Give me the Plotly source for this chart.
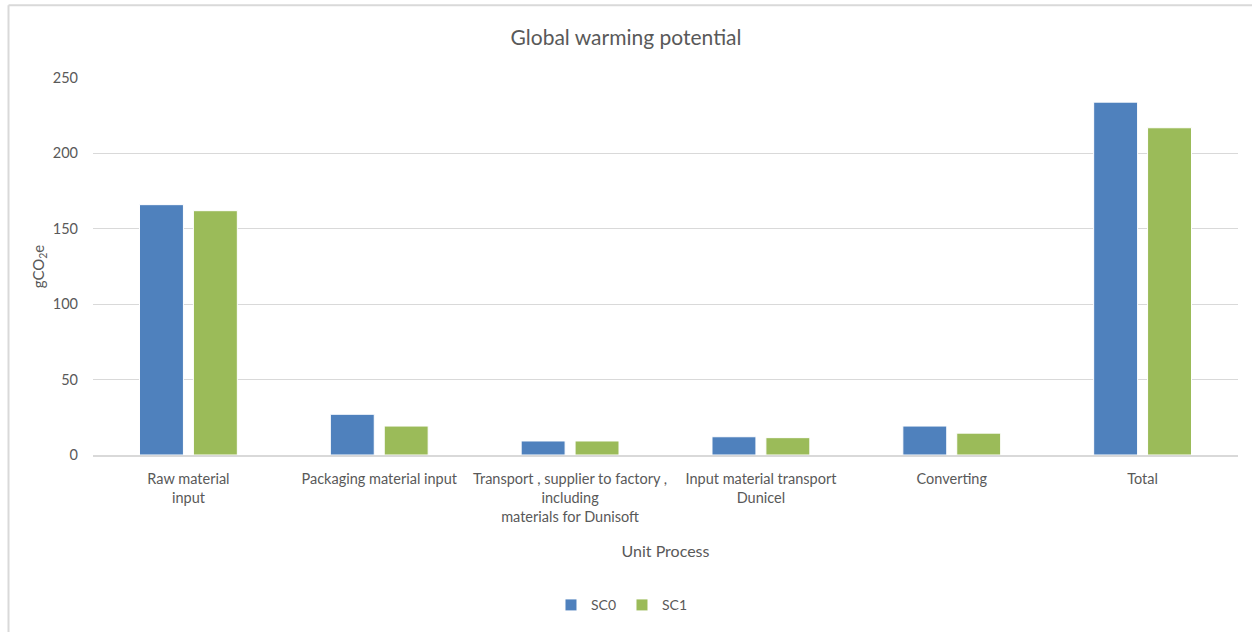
import plotly.graph_objects as go

categories = [
    "Raw material<br>input",
    "Packaging material input",
    "Transport , supplier to factory ,<br>including<br>materials for Dunisoft",
    "Input material transport<br>Dunicel",
    "Converting",
    "Total",
]
sc0 = [166, 27, 9.3, 12.1, 19.2, 234]
sc1 = [162, 19.2, 9.3, 11.5, 14.5, 217]
y_ticks = [0, 50, 100, 150, 200, 250]

FONT = "Lato, Open Sans, sans-serif"
TXT = "#595959"

fig = go.Figure()
fig.add_trace(go.Bar(name="SC0", x=categories, y=sc0, marker=dict(color="#4F81BD", line=dict(color="#FFFFFF", width=1))))
fig.add_trace(go.Bar(name="SC1", x=categories, y=sc1, marker=dict(color="#9BBB59", line=dict(color="#FFFFFF", width=1))))

fig.update_layout(
    width=1252, height=632,
    margin=dict(l=93, r=14, t=78, b=176),
    paper_bgcolor="white", plot_bgcolor="white",
    barmode="group", bargap=0.435, bargroupgap=0.185,
    font=dict(family=FONT, color=TXT, size=14),
    title=dict(text="Global warming potential", x=0.5, xanchor="center", y=0.94, yanchor="middle",
               font=dict(size=21, color=TXT, family=FONT)),
    legend=dict(orientation="h", x=0.462, xanchor="center", y=-0.395, yanchor="middle",
                font=dict(size=14, color=TXT), itemwidth=30, traceorder="normal",
                entrywidth=26, entrywidthmode="pixels"),
    xaxis=dict(showgrid=False, showline=True, linecolor="#D9D9D9", linewidth=1.5,
               tickfont=dict(size=14.5, color=TXT), ticklabelstandoff=10,
               title=dict(text="Unit Process", font=dict(size=16, color=TXT), standoff=22)),
    yaxis=dict(range=[0, 250], tickvals=y_ticks, showgrid=True, gridcolor="#D9D9D9", gridwidth=1,
               zeroline=False, showline=False, tickfont=dict(size=14.5, color=TXT), ticklabelstandoff=14,
               title=dict(text="gCO<sub>2</sub>e", font=dict(size=15, color=TXT), standoff=4)),
    showlegend=True,
)

# outer chart border (top and left visible)
fig.add_shape(type="line", xref="paper", yref="paper", x0=-0.0738, x1=1.02, y0=1.193, y1=1.193,
              line=dict(color="#D9D9D9", width=2))
fig.add_shape(type="line", xref="paper", yref="paper", x0=-0.0738, x1=-0.0738, y0=1.193, y1=-0.5,
              line=dict(color="#D9D9D9", width=2))

fig.write_html("out.html")
